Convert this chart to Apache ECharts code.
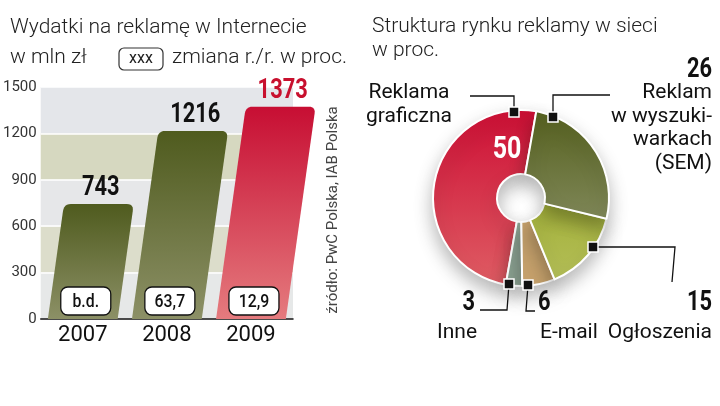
<!DOCTYPE html>
<html><head><meta charset="utf-8">
<script src="https://cdn.jsdelivr.net/npm/echarts@6/dist/echarts.min.js"></script>
<style>html,body{margin:0;padding:0;background:#fff}#c{width:720px;height:406px}</style>
</head><body><div id="c"></div>
<script>
// ---- data ----
const years = ['2007', '2008', '2009'];
const spending = [743, 1216, 1373];
const changeLabels = ['b.d.', '63,7', '12,9'];
const yTicks = [0, 300, 600, 900, 1200, 1500];
const shareNames = ['Reklama\ngraficzna', 'Inne', 'E-mail', 'Ogłoszenia', 'Reklam\nw wyszuki-\nwarkach\n(SEM)'];
const shareValues = [50, 3, 6, 15, 26];

const FONT = 'Roboto, "Noto Sans", sans-serif';
const BOLD = 'bold 28px Roboto, "Noto Sans", sans-serif';
const NARROW = 0.78;
const lg = (a, b) => new echarts.graphic.LinearGradient(0, 0, 0, 1, [{offset: 0, color: a}, {offset: 1, color: b}]);

function corner(p0, c, p2, n) {
  const out = [];
  for (let k = 0; k <= n; k++) {
    const t = k / n;
    out.push([(1-t)*(1-t)*p0[0] + 2*(1-t)*t*c[0] + t*t*p2[0], (1-t)*(1-t)*p0[1] + 2*(1-t)*t*c[1] + t*t*p2[1]]);
  }
  return out;
}

function renderBar(params, api) {
  const i = api.value(0), v = api.value(1);
  const top = api.coord([i, v]), base = api.coord([i, 0]);
  const bw = api.size([1, 0])[0] * 0.83;
  const h = base[1] - top[1];
  const sk = 0.14, r = 7;
  const bl = [base[0] - bw/2, base[1]], br = [base[0] + bw/2, base[1]];
  const tl = [bl[0] + h*sk, top[1]], tr = [br[0] + h*sk, top[1]];
  const len = Math.hypot(h*sk, h);
  const ux = -h*sk/len, uy = h/len;
  const pts = [bl]
    .concat(corner([tl[0] + ux*r, tl[1] + uy*r], tl, [tl[0] + r, tl[1]], 6))
    .concat(corner([tr[0] - r, tr[1]], tr, [tr[0] + ux*r, tr[1] + uy*r], 6))
    .concat([br]);
  const last = i === spending.length - 1;
  const fill = last ? lg('#c70e33', '#e57b7e') : lg('#4f5b1e', '#8c9066');
  const bx = base[0] + 3, by = base[1] - 18;
  return {
    type: 'group',
    children: [
      {type: 'polygon', shape: {points: pts}, style: {fill: fill}},
      {type: 'text', x: (tl[0] + tr[0]) / 2 + 2, y: top[1] - 2, scaleX: NARROW,
        style: {text: String(v), x: 0, y: 0, align: 'center', verticalAlign: 'bottom', font: BOLD, fill: last ? '#c8102e' : '#111'}},
      {type: 'rect', shape: {x: bx - 25, y: by - 14, width: 50, height: 28, r: 7}, style: {fill: '#fff', stroke: '#111', lineWidth: 1.3}},
      {type: 'text', x: bx, y: by + 1, scaleX: 0.88,
        style: {text: changeLabels[i], x: 0, y: 0, align: 'center', verticalAlign: 'middle', font: '500 18px ' + FONT, fill: '#111'}}
    ]
  };
}

const chart = echarts.init(document.getElementById('c'), null, {renderer: 'canvas'});

const T = (text, x, y, size, style, el) => Object.assign({
  type: 'text', x: x, y: y, z: 100,
  style: Object.assign({text: text, font: size + 'px ' + FONT, fill: '#222', align: 'left', verticalAlign: 'middle'}, style || {})
}, el || {});
const L = (text, x, y) => T(text, x, y, 20, {font: '300 21px ' + FONT, fill: '#222'});
const N = (text, x, y, align, fill, font) => ({
  type: 'text', x: x, y: y, z: 100, scaleX: NARROW,
  style: {text: text, x: 0, y: 0, font: font || BOLD, fill: fill || '#111', align: align, verticalAlign: 'middle'}
});
const line = (pts) => ({type: 'polyline', z: 100, shape: {points: pts}, style: {stroke: '#111', lineWidth: 1.3, fill: null}});
const marker = (x, y) => ({type: 'rect', z: 101, shape: {x: x - 5, y: y - 5, width: 10, height: 10}, style: {fill: '#111', stroke: '#fff', lineWidth: 1.5}});

chart.setOption({
  animation: false,
  backgroundColor: '#fff',
  grid: {left: 40, right: 427, top: 87, bottom: 87},
  xAxis: {
    type: 'category', data: years,
    axisLine: {lineStyle: {color: '#111', width: 1.5}},
    axisTick: {show: false},
    axisLabel: {fontSize: 22, color: '#111', margin: 5, fontFamily: FONT}
  },
  yAxis: {
    type: 'value', min: yTicks[0], max: yTicks[yTicks.length - 1], interval: yTicks[1] - yTicks[0],
    axisLine: {show: false}, axisTick: {show: false},
    axisLabel: {fontSize: 15, color: '#333', margin: 4, fontFamily: FONT, formatter: (v) => String(v)},
    splitLine: {lineStyle: {color: '#fff', width: 1.5}},
    splitArea: {show: true, areaStyle: {color: ['#e6e8e8', '#dcddcb', '#e6e7e9', '#d6d8c0', '#e4e6ea']}}
  },
  series: [
    {
      type: 'custom', renderItem: renderBar, clip: false,
      data: spending.map((v, i) => [i, v]), encode: {x: 0, y: 1}, z: 3
    },
    {
      type: 'pie', center: [521, 198], radius: [24, 88], startAngle: 80, clockwise: false,
      label: {show: false}, labelLine: {show: false}, silent: true,
      itemStyle: {borderColor: '#fff', borderWidth: 2, shadowBlur: 18, shadowColor: 'rgba(0,0,0,0.28)', shadowOffsetY: 9},
      data: shareNames.map((n, i) => ({name: n, value: shareValues[i], itemStyle: {color: [
        lg('#cd0f35', '#df5d64'), '#8fa595', '#c9a46e', lg('#a3b13a', '#b4be58'), lg('#56611f', '#7f8758')][i]}}))
    }
  ],
  graphic: [
    L('Wydatki na reklamę w Internecie', 10, 28),
    L('w mln zł', 10, 58),
    {type: 'rect', z: 100, shape: {x: 119, y: 48, width: 44, height: 22, r: 5}, style: {fill: '#fff', stroke: '#333', lineWidth: 1.2}},
    T('xxx', 141, 59, 16, {align: 'center'}),
    L('zmiana r./r. w proc.', 172, 58),
    T('źródło: PwC Polska, IAB Polska', 333, 210, 15, {align: 'center', fill: '#444'}, {rotation: Math.PI / 2}),
    L('Struktura rynku reklamy w sieci', 372, 27),
    L('w proc.', 372, 51),
    // Reklama graficzna
    line([[514, 112], [514, 96], [470, 96]]), marker(514, 112),
    T(shareNames[0], 409, 105, 21, {align: 'center', lineHeight: 24, fill: '#111'}),
    N(String(shareValues[0]), 507, 150, 'center', '#fff', 'bold 32px Roboto, sans-serif'),
    // SEM
    line([[553, 117], [553, 95], [610, 95]]), marker(553, 117),
    N(String(shareValues[4]), 712, 70, 'right'),
    T(shareNames[4], 712, 81, 21, {align: 'right', verticalAlign: 'top', lineHeight: 23.5, fill: '#111'}),
    // Ogłoszenia
    line([[593, 247], [675, 247], [672, 282]]), marker(593, 247),
    N(String(shareValues[3]), 712, 303, 'right'),
    T(shareNames[3], 712, 333, 21, {align: 'right', fill: '#111'}),
    // E-mail
    line([[528, 285], [526, 311], [535, 311]]), marker(528, 285),
    N(String(shareValues[2]), 538, 303, 'left'),
    T(shareNames[2], 540, 333, 21, {fill: '#111'}),
    // Inne
    line([[509, 284], [507, 310], [480, 310]]), marker(509, 284),
    N(String(shareValues[1]), 475, 303, 'right'),
    T(shareNames[1], 437, 333, 21, {fill: '#111'})
  ]
});
</script>
</body></html>
